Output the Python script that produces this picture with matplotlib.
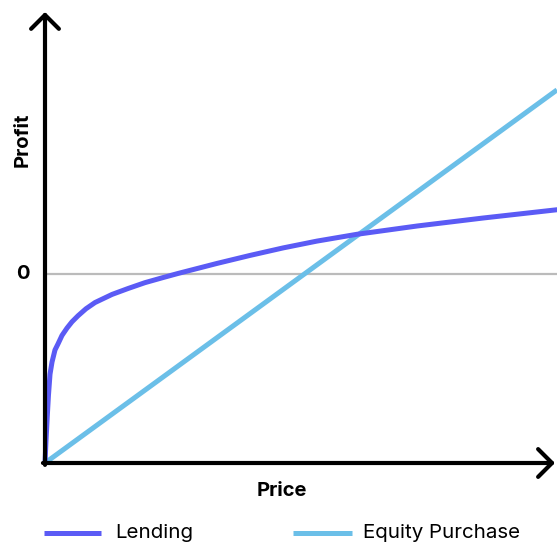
import matplotlib
matplotlib.use("Agg")
import matplotlib.pyplot as plt
from matplotlib.lines import Line2D

plt.rcParams['font.family'] = ['Inter', 'DejaVu Sans']

# Data (price normalized 0..1, profit with 0 = break-even, -1 = origin)
lending_price = [0.0, 0.002, 0.0045, 0.0068, 0.0098, 0.0137, 0.0195, 0.0254, 0.0332, 0.043,
                 0.0527, 0.0645, 0.080, 0.0977, 0.131, 0.162, 0.195, 0.229, 0.260, 0.293,
                 0.336, 0.400, 0.465, 0.531, 0.609, 0.727, 0.855, 1.0]
lending_profit = [-1.0, -0.88, -0.75, -0.64, -0.53, -0.466, -0.402, -0.370, -0.325, -0.286,
                  -0.253, -0.221, -0.184, -0.151, -0.108, -0.077, -0.046, -0.020, 0.003, 0.026,
                  0.056, 0.098, 0.138, 0.174, 0.210, 0.254, 0.296, 0.340]
equity_price = [0.0, 1.0]
equity_profit = [-1.0, 0.974]

W, H = 557, 550
fig = plt.figure(figsize=(W / 100, H / 100), dpi=100)
x0, y0, x1, y1 = 45, 463, 557, 10
ax = fig.add_axes([x0 / W, 1 - y0 / H, (x1 - x0) / W, (y0 - y1) / H])
unit = 189.0
ymax = (274 - 10) / unit
ax.set_xlim(0, 1)
ax.set_ylim(-1, ymax)
ax.axis('off')

ax.axhline(0, color='#BBBBBB', lw=1.6, zorder=1)
ax.plot(equity_price, equity_profit, color='#6BBFE8', lw=3.6, solid_capstyle='butt', zorder=2, clip_on=False)
ax.plot(lending_price, lending_profit, color='#5B5BF5', lw=3.6, solid_capstyle='round',
        solid_joinstyle='round', zorder=3, clip_on=False)

arrow = dict(arrowstyle='->,head_length=0.5,head_width=0.5', lw=3, color='black',
             shrinkA=0, shrinkB=0, mutation_scale=20)
ax.annotate('', xy=(0.996, -1), xytext=(-0.004, -1), arrowprops=arrow, annotation_clip=False, zorder=5)
ax.annotate('', xy=(0, (274 - 12) / unit), xytext=(0, -1.01), arrowprops=arrow, annotation_clip=False, zorder=5)

fig.text(23 / W, 1 - 140 / H, 'Profit', rotation=90, ha='center', va='center',
         fontsize=14.5, fontweight='bold')
fig.text(23 / W, 1 - 274 / H, '0', ha='center', va='center', fontsize=14.5, fontweight='bold')
fig.text(282 / W, 1 - 491 / H, 'Price', ha='center', va='center', fontsize=14.5, fontweight='bold')

ly = 1 - 533 / H
fig.add_artist(Line2D([44 / W, 101 / W], [ly, ly], color='#5B5BF5', lw=3.6, solid_capstyle='butt'))
fig.text(115 / W, ly, 'Lending', ha='left', va='center', fontsize=14.8)
fig.add_artist(Line2D([293 / W, 352 / W], [ly, ly], color='#6BBFE8', lw=3.6, solid_capstyle='butt'))
fig.text(363 / W, ly, 'Equity Purchase', ha='left', va='center', fontsize=14.8)

fig.savefig('out.png', dpi=100)
